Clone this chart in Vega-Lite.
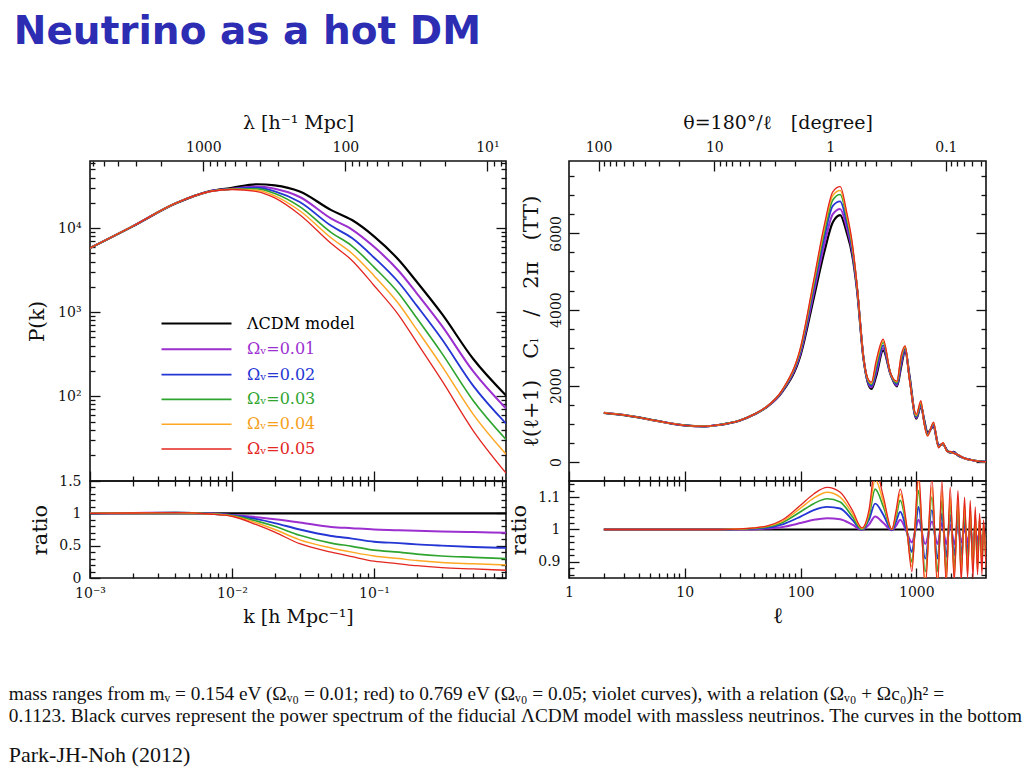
{
"$schema": "https://vega.github.io/schema/vega-lite/v6.json",
"background": "white",
"padding": {"left": 8, "top": 13, "right": 5, "bottom": 5},
"title": {"text": "Neutrino as a hot DM", "anchor": "start", "font": "DejaVu Sans", "fontSize": 39, "fontWeight": "bold", "color": "#2d2db4", "offset": 60, "dx": 5},
"config": {
  "view": {"stroke": "#111111", "strokeWidth": 1.6},
  "axis": {"domain": false, "grid": false, "labelFont": "DejaVu Serif", "labelFontSize": 14, "labelColor": "#111111", "titleFont": "DejaVu Serif", "titleFontSize": 19, "titleFontWeight": "normal", "titleColor": "#111111", "tickColor": "#111111", "tickWidth": 1.3, "labelOverlap": false, "labelFlush": false},
  "line": {"interpolate": "monotone"}
},
"datasets": {
  "pk": [
    {"k":0.001,"m0":5800,"m1":5800,"m2":5800,"m3":5800,"m4":5800,"m5":5800},
    {"k":0.002,"m0":10500,"m1":10550,"m2":10550,"m3":10550,"m4":10550,"m5":10550},
    {"k":0.004,"m0":19600,"m1":19800,"m2":19800,"m3":19800,"m4":19800,"m5":19800},
    {"k":0.007,"m0":27600,"m1":27600,"m2":27460,"m3":27460,"m4":27320,"m5":27320},
    {"k":0.01,"m0":30200,"m1":29450,"m2":29290,"m3":29140,"m4":28990,"m5":28840},
    {"k":0.015,"m0":33300,"m1":31300,"m2":30300,"m3":29300,"m4":28300,"m5":27300},
    {"k":0.02,"m0":32300,"m1":29390,"m2":27460,"m3":25840,"m4":24230,"m5":22930},
    {"k":0.03,"m0":27300,"m1":23480,"m2":20480,"m3":18020,"m4":16110,"m5":14470},
    {"k":0.05,"m0":16400,"m1":12960,"m2":10660,"m3":8860,"m4":7630,"m5":6560},
    {"k":0.07,"m0":12500,"m1":9630,"m2":7630,"m3":6130,"m4":5000,"m5":4130},
    {"k":0.1,"m0":8000,"m1":6000,"m2":4480,"m3":3440,"m4":2720,"m5":2080},
    {"k":0.15,"m0":4150,"m1":3070,"m2":2240,"m3":1660,"m4":1245,"m5":913},
    {"k":0.2,"m0":2300,"m1":1679,"m2":1196,"m3":851,"m4":621,"m5":437},
    {"k":0.3,"m0":960,"m1":691,"m2":480,"m3":326,"m4":230,"m5":154},
    {"k":0.5,"m0":277,"m1":197,"m2":133,"m3":88.6,"m4":60.9,"m5":38.8},
    {"k":0.85,"m0":102,"m1":71.4,"m2":47.4,"m3":30.6,"m4":20.4,"m5":12.2}
  ],
  "pkr": [
    {"k":0.001,"m0":1,"m1":1,"m2":1,"m3":1,"m4":1,"m5":1},
    {"k":0.002,"m0":1,"m1":1.005,"m2":1.005,"m3":1.005,"m4":1.005,"m5":1.005},
    {"k":0.004,"m0":1,"m1":1.01,"m2":1.01,"m3":1.01,"m4":1.01,"m5":1.01},
    {"k":0.007,"m0":1,"m1":1.0,"m2":0.995,"m3":0.995,"m4":0.99,"m5":0.99},
    {"k":0.01,"m0":1,"m1":0.975,"m2":0.97,"m3":0.965,"m4":0.96,"m5":0.955},
    {"k":0.015,"m0":1,"m1":0.94,"m2":0.91,"m3":0.88,"m4":0.85,"m5":0.82},
    {"k":0.02,"m0":1,"m1":0.91,"m2":0.85,"m3":0.80,"m4":0.75,"m5":0.71},
    {"k":0.03,"m0":1,"m1":0.86,"m2":0.75,"m3":0.66,"m4":0.59,"m5":0.53},
    {"k":0.05,"m0":1,"m1":0.79,"m2":0.65,"m3":0.54,"m4":0.465,"m5":0.40},
    {"k":0.07,"m0":1,"m1":0.77,"m2":0.61,"m3":0.49,"m4":0.40,"m5":0.33},
    {"k":0.1,"m0":1,"m1":0.75,"m2":0.56,"m3":0.43,"m4":0.34,"m5":0.26},
    {"k":0.15,"m0":1,"m1":0.74,"m2":0.54,"m3":0.40,"m4":0.30,"m5":0.22},
    {"k":0.2,"m0":1,"m1":0.73,"m2":0.52,"m3":0.37,"m4":0.27,"m5":0.19},
    {"k":0.3,"m0":1,"m1":0.72,"m2":0.50,"m3":0.34,"m4":0.24,"m5":0.16},
    {"k":0.5,"m0":1,"m1":0.71,"m2":0.48,"m3":0.32,"m4":0.22,"m5":0.14},
    {"k":0.85,"m0":1,"m1":0.70,"m2":0.465,"m3":0.30,"m4":0.20,"m5":0.12}
  ],
  "cl": [
    {"l":2,"m0":1290,"m1":1290,"m2":1290,"m3":1290,"m4":1290,"m5":1290},
    {"l":3,"m0":1230,"m1":1230,"m2":1230,"m3":1230,"m4":1230,"m5":1230},
    {"l":4,"m0":1170,"m1":1170,"m2":1170,"m3":1170,"m4":1170,"m5":1170},
    {"l":5,"m0":1110,"m1":1110,"m2":1110,"m3":1110,"m4":1110,"m5":1110},
    {"l":7,"m0":1030,"m1":1030,"m2":1030,"m3":1030,"m4":1030,"m5":1030},
    {"l":10,"m0":960,"m1":960,"m2":960,"m3":960,"m4":960,"m5":960},
    {"l":15,"m0":935,"m1":935,"m2":935,"m3":935,"m4":935,"m5":935},
    {"l":20,"m0":975,"m1":975,"m2":975,"m3":975,"m4":975,"m5":975},
    {"l":30,"m0":1090,"m1":1090,"m2":1091,"m3":1091,"m4":1092,"m5":1092},
    {"l":40,"m0":1250,"m1":1251,"m2":1253,"m3":1254,"m4":1255,"m5":1256},
    {"l":50,"m0":1420,"m1":1424,"m2":1427,"m3":1430,"m4":1433,"m5":1434},
    {"l":70,"m0":1850,"m1":1865,"m2":1880,"m3":1891,"m4":1898,"m5":1906},
    {"l":100,"m0":2800,"m1":2856,"m2":2912,"m3":2954,"m4":2985,"m5":3010},
    {"l":130,"m0":4300,"m1":4430,"m2":4558,"m3":4644,"m4":4717,"m5":4773},
    {"l":160,"m0":5500,"m1":5687,"m2":5880,"m3":6017,"m4":6122,"m5":6204},
    {"l":190,"m0":6290,"m1":6504,"m2":6724,"m3":6875,"m4":6994,"m5":7089},
    {"l":220,"m0":6480,"m1":6642,"m2":6839,"m3":7020,"m4":7128,"m5":7225},
    {"l":250,"m0":6030,"m1":6163,"m2":6301,"m3":6422,"m4":6500,"m5":6573},
    {"l":280,"m0":5420,"m1":5501,"m2":5583,"m3":5637,"m4":5691,"m5":5745},
    {"l":307,"m0":4540,"m1":4576,"m2":4608,"m3":4631,"m4":4658,"m5":4676},
    {"l":350,"m0":2710,"m1":2715,"m2":2721,"m3":2726,"m4":2732,"m5":2737},
    {"l":380,"m0":2100,"m1":2121,"m2":2142,"m3":2163,"m4":2184,"m5":2205},
    {"l":410,"m0":1920,"m1":1958,"m2":1997,"m3":2035,"m4":2064,"m5":2095},
    {"l":450,"m0":2250,"m1":2329,"m2":2419,"m3":2520,"m4":2588,"m5":2655},
    {"l":517,"m0":2930,"m1":2989,"m2":3062,"m3":3135,"m4":3179,"m5":3223},
    {"l":600,"m0":2300,"m1":2298,"m2":2300,"m3":2312,"m4":2318,"m5":2323},
    {"l":680,"m0":1985,"m1":2009,"m2":2045,"m3":2074,"m4":2104,"m5":2124},
    {"l":740,"m0":2500,"m1":2570,"m2":2638,"m3":2713,"m4":2763,"m5":2800},
    {"l":802,"m0":2930,"m1":2959,"m2":2989,"m3":3018,"m4":3033,"m5":3047},
    {"l":870,"m0":2300,"m1":2266,"m2":2243,"m3":2220,"m4":2208,"m5":2185},
    {"l":1000,"m0":1135,"m1":1158,"m2":1180,"m3":1203,"m4":1226,"m5":1249},
    {"l":1096,"m0":1460,"m1":1489,"m2":1518,"m3":1548,"m4":1577,"m5":1606},
    {"l":1170,"m0":1100,"m1":1067,"m2":1056,"m3":1034,"m4":1012,"m5":990},
    {"l":1250,"m0":770,"m1":739,"m2":724,"m3":708,"m4":693,"m5":678},
    {"l":1409,"m0":935,"m1":958,"m2":982,"m3":1010,"m4":1029,"m5":1047},
    {"l":1556,"m0":437,"m1":420,"m2":406,"m3":393,"m4":380,"m5":371},
    {"l":1700,"m0":463,"m1":472,"m2":482,"m3":491,"m4":500,"m5":509},
    {"l":1850,"m0":300,"m1":288,"m2":282,"m3":279,"m4":273,"m5":270},
    {"l":1963,"m0":245,"m1":249,"m2":255,"m3":265,"m4":270,"m5":277},
    {"l":2097,"m0":262,"m1":252,"m2":244,"m3":236,"m4":231,"m5":225},
    {"l":2300,"m0":170,"m1":172,"m2":177,"m3":180,"m4":184,"m5":187},
    {"l":2560,"m0":105,"m1":105,"m2":105,"m3":105,"m4":105,"m5":105},
    {"l":3000,"m0":50,"m1":50,"m2":50,"m3":50,"m4":50,"m5":50},
    {"l":3500,"m0":15,"m1":15,"m2":15,"m3":15,"m4":15,"m5":15},
    {"l":4000,"m0":5,"m1":5,"m2":5,"m3":5,"m4":5,"m5":5}
  ],
  "clr": [
    {"l":2,"m0":1,"m1":1,"m2":1,"m3":1,"m4":1,"m5":1},
    {"l":10,"m0":1,"m1":1,"m2":1,"m3":1,"m4":1,"m5":1},
    {"l":20,"m0":1,"m1":1,"m2":1,"m3":1,"m4":1,"m5":1},
    {"l":30,"m0":1,"m1":1.0,"m2":1.001,"m3":1.001,"m4":1.002,"m5":1.002},
    {"l":50,"m0":1,"m1":1.003,"m2":1.005,"m3":1.007,"m4":1.009,"m5":1.01},
    {"l":70,"m0":1,"m1":1.008,"m2":1.016,"m3":1.022,"m4":1.026,"m5":1.03},
    {"l":100,"m0":1,"m1":1.02,"m2":1.04,"m3":1.055,"m4":1.066,"m5":1.075},
    {"l":130,"m0":1,"m1":1.03,"m2":1.06,"m3":1.08,"m4":1.097,"m5":1.11},
    {"l":170,"m0":1,"m1":1.035,"m2":1.07,"m3":1.095,"m4":1.115,"m5":1.13},
    {"l":220,"m0":1,"m1":1.032,"m2":1.065,"m3":1.085,"m4":1.10,"m5":1.115},
    {"l":280,"m0":1,"m1":1.015,"m2":1.03,"m3":1.04,"m4":1.05,"m5":1.06},
    {"l":339,"m0":1,"m1":0.999,"m2":1.0,"m3":1.0,"m4":1.003,"m5":1.005},
    {"l":390,"m0":1,"m1":1.015,"m2":1.03,"m3":1.04,"m4":1.05,"m5":1.06},
    {"l":441,"m0":1,"m1":1.04,"m2":1.08,"m3":1.125,"m4":1.155,"m5":1.19},
    {"l":520,"m0":1,"m1":1.02,"m2":1.045,"m3":1.07,"m4":1.085,"m5":1.1},
    {"l":615,"m0":1,"m1":0.998,"m2":0.998,"m3":1.0,"m4":1.0,"m5":1.0},
    {"l":670,"m0":1,"m1":1.012,"m2":1.025,"m3":1.04,"m4":1.05,"m5":1.06},
    {"l":726,"m0":1,"m1":1.03,"m2":1.055,"m3":1.09,"m4":1.11,"m5":1.125},
    {"l":820,"m0":1,"m1":0.995,"m2":1.0,"m3":1.01,"m4":1.015,"m5":1.02},
    {"l":916,"m0":1,"m1":0.96,"m2":0.93,"m3":0.9,"m4":0.885,"m5":0.87},
    {"l":980,"m0":1,"m1":0.995,"m2":1.0,"m3":1.01,"m4":1.02,"m5":1.03},
    {"l":1045,"m0":1,"m1":1.03,"m2":1.07,"m3":1.12,"m4":1.155,"m5":1.18},
    {"l":1194,"m0":1,"m1":0.955,"m2":0.91,"m3":0.87,"m4":0.84,"m5":0.82},
    {"l":1364,"m0":1,"m1":1.025,"m2":1.06,"m3":1.1,"m4":1.13,"m5":1.16},
    {"l":1525,"m0":1,"m1":0.955,"m2":0.91,"m3":0.87,"m4":0.84,"m5":0.82},
    {"l":1664,"m0":1,"m1":1.02,"m2":1.05,"m3":1.09,"m4":1.12,"m5":1.15},
    {"l":1813,"m0":1,"m1":0.955,"m2":0.915,"m3":0.87,"m4":0.85,"m5":0.83},
    {"l":1963,"m0":1,"m1":1.015,"m2":1.045,"m3":1.08,"m4":1.10,"m5":1.13},
    {"l":2127,"m0":1,"m1":0.955,"m2":0.92,"m3":0.88,"m4":0.855,"m5":0.84},
    {"l":2290,"m0":1,"m1":1.01,"m2":1.04,"m3":1.07,"m4":1.09,"m5":1.12},
    {"l":2444,"m0":1,"m1":0.96,"m2":0.92,"m3":0.88,"m4":0.86,"m5":0.84},
    {"l":2612,"m0":1,"m1":1.005,"m2":1.03,"m3":1.06,"m4":1.08,"m5":1.1},
    {"l":2773,"m0":1,"m1":0.96,"m2":0.925,"m3":0.885,"m4":0.865,"m5":0.85},
    {"l":2924,"m0":1,"m1":1.0,"m2":1.02,"m3":1.05,"m4":1.07,"m5":1.09},
    {"l":3085,"m0":1,"m1":0.96,"m2":0.93,"m3":0.89,"m4":0.87,"m5":0.85},
    {"l":3230,"m0":1,"m1":0.995,"m2":1.01,"m3":1.04,"m4":1.05,"m5":1.07},
    {"l":3380,"m0":1,"m1":0.965,"m2":0.93,"m3":0.89,"m4":0.87,"m5":0.86},
    {"l":3520,"m0":1,"m1":0.99,"m2":1.0,"m3":1.03,"m4":1.04,"m5":1.05},
    {"l":3690,"m0":1,"m1":0.965,"m2":0.935,"m3":0.9,"m4":0.88,"m5":0.86},
    {"l":3810,"m0":1,"m1":0.98,"m2":0.99,"m3":1.01,"m4":1.02,"m5":1.03},
    {"l":4000,"m0":1,"m1":0.97,"m2":0.94,"m3":0.9,"m4":0.89,"m5":0.88}
  ]
},
"resolve": {"scale": {"color": "independent", "strokeWidth": "independent"}, "legend": {"color": "independent", "strokeWidth": "independent"}},
"vconcat": [
 {
  "title": {"text": ["mass ranges from mᵥ = 0.154 eV (Ωᵥ₀ = 0.01; red) to 0.769 eV (Ωᵥ₀ = 0.05; violet curves), with a relation (Ωᵥ₀ + Ωc₀)h² =", "0.1123. Black curves represent the power spectrum of the fiducial ΛCDM model with massless neutrinos. The curves in the bottom"], "subtitle": "Park-JH-Noh (2012)", "orient": "bottom", "anchor": "start", "font": "Liberation Serif", "fontSize": 19.3, "fontWeight": "normal", "lineHeight": 22, "color": "#111111", "subtitleFont": "Liberation Serif", "subtitleFontSize": 22, "subtitleColor": "#111111", "subtitlePadding": 19, "offset": 58, "dx": -18},
  "spacing": -1,
  "resolve": {"scale": {"color": "independent", "strokeWidth": "independent"}, "legend": {"color": "independent", "strokeWidth": "independent"}},
  "hconcat": [
   {
    "spacing": 0,
    "bounds": "flush",
    "resolve": {"scale": {"color": "independent", "strokeWidth": "independent"}, "legend": {"color": "independent", "strokeWidth": "independent"}},
    "vconcat": [
     {
      "width": 416, "height": 320,
      "resolve": {"scale": {"x": "independent", "y": "independent"}, "axis": {"x": "independent", "y": "independent"}},
      "layer": [
       {
        "data": {"name": "pk"},
        "transform": [{"fold": ["m0","m1","m2","m3","m4","m5"], "as": ["model","P"]}],
        "mark": {"type": "line", "interpolate": "monotone", "clip": true},
        "encoding": {
          "x": {"field": "k", "type": "quantitative", "scale": {"type": "log", "domain": [0.001, 0.85], "nice": false}, "axis": {"orient": "bottom", "values": [0.001, 0.01, 0.1], "tickSize": -10, "labels": false, "title": null}},
          "y": {"field": "P", "type": "quantitative", "scale": {"type": "log", "domain": [9.8, 63000], "nice": false}, "axis": {"orient": "left", "values": [100, 1000, 10000], "tickSize": -10, "labelPadding": 19, "labelExpr": "datum.value == 100 ? '10²' : datum.value == 1000 ? '10³' : '10⁴'", "title": "P(k)", "titleFontSize": 20, "titlePadding": 10}},
          "color": {
            "field": "model", "type": "nominal",
            "scale": {"domain": ["m0","m1","m2","m3","m4","m5"], "range": ["#000000","#9b2fcf","#2536d4","#2fa52f","#ffa824","#e3261f"]},
            "legend": {
              "orient": "none", "legendX": 95, "legendY": 151, "title": null, "padding": 0,
              "symbolType": "M-3.5,0H3.5", "symbolSize": 400, "symbolStrokeWidth": 1.5,
              "labelFont": "DejaVu Serif", "labelFontSize": 16, "labelOffset": 39, "rowPadding": 5.8,
              "labelExpr": "datum.value == 'm0' ? 'ΛCDM model' : datum.value == 'm1' ? 'Ωᵥ=0.01' : datum.value == 'm2' ? 'Ωᵥ=0.02' : datum.value == 'm3' ? 'Ωᵥ=0.03' : datum.value == 'm4' ? 'Ωᵥ=0.04' : 'Ωᵥ=0.05'",
              "encode": {
                "labels": {
                  "update": {
                    "fill": {"signal": "datum.value == 'm0' ? '#000000' : datum.value == 'm1' ? '#9b2fcf' : datum.value == 'm2' ? '#2536d4' : datum.value == 'm3' ? '#2fa52f' : datum.value == 'm4' ? '#f5a01a' : '#e3261f'"}
                  }
                }
              }
            }
          },
          "strokeWidth": {"field": "model", "type": "ordinal", "scale": {"domain": ["m0","m1","m2","m3","m4","m5"], "range": [2.2, 1.3, 1.3, 1.3, 1.3, 1.3]}, "legend": null}
        }
       },
       {
        "data": {"values": [{}]},
        "mark": {"type": "point", "opacity": 0},
        "encoding": {
          "x": {"datum": 0.01, "type": "quantitative", "scale": {"type": "log", "domain": [0.001, 0.85], "nice": false}, "axis": {"orient": "bottom", "values": [0.002,0.003,0.004,0.005,0.006,0.007,0.008,0.009,0.02,0.03,0.04,0.05,0.06,0.07,0.08,0.09,0.2,0.3,0.4,0.5,0.6,0.7,0.8], "tickSize": -5, "labels": false, "title": null}},
          "y": {"datum": 1000, "type": "quantitative", "scale": {"type": "log", "domain": [9.8, 63000], "nice": false}, "axis": {"orient": "left", "values": [20,30,40,50,60,70,80,90,200,300,400,500,600,700,800,900,2000,3000,4000,5000,6000,7000,8000,9000,20000,30000,40000,50000,60000], "tickSize": -5, "labels": false, "title": null}}
        }
       },
       {
        "data": {"values": [{}]},
        "mark": {"type": "point", "opacity": 0},
        "encoding": {
          "x": {"datum": 100, "type": "quantitative", "scale": {"type": "log", "domain": [7.392, 6283.2], "reverse": true, "nice": false}, "axis": {"orient": "top", "values": [10, 100, 1000], "tickSize": -10, "labelPadding": 17, "labelExpr": "datum.value > 500 ? '1000' : datum.value > 50 ? '100' : '10¹'", "title": "λ [h⁻¹ Mpc]", "titlePadding": 8}},
          "y": {"datum": 1000, "type": "quantitative", "scale": {"type": "log", "domain": [9.8, 63000], "nice": false}, "axis": {"orient": "right", "values": [100, 1000, 10000], "tickSize": -10, "labels": false, "title": null}}
        }
       },
       {
        "data": {"values": [{}]},
        "mark": {"type": "point", "opacity": 0},
        "encoding": {
          "x": {"datum": 100, "type": "quantitative", "scale": {"type": "log", "domain": [7.392, 6283.2], "reverse": true, "nice": false}, "axis": {"orient": "top", "values": [8,9,20,30,40,50,60,70,80,90,200,300,400,500,600,700,800,900,2000,3000,4000,5000,6000], "tickSize": -5, "labels": false, "title": null}},
          "y": {"datum": 1000, "type": "quantitative", "scale": {"type": "log", "domain": [9.8, 63000], "nice": false}, "axis": {"orient": "right", "values": [20,30,40,50,60,70,80,90,200,300,400,500,600,700,800,900,2000,3000,4000,5000,6000,7000,8000,9000,20000,30000,40000,50000,60000], "tickSize": -5, "labels": false, "title": null}}
        }
       }
      ]
     },
     {
      "width": 416, "height": 97,
      "resolve": {"scale": {"x": "independent", "y": "independent"}, "axis": {"x": "independent", "y": "independent"}},
      "layer": [
       {
        "data": {"name": "pkr"},
        "transform": [{"fold": ["m0","m1","m2","m3","m4","m5"], "as": ["model","r"]}],
        "mark": {"type": "line", "interpolate": "monotone", "clip": true},
        "encoding": {
          "x": {"field": "k", "type": "quantitative", "scale": {"type": "log", "domain": [0.001, 0.85], "nice": false}, "axis": {"orient": "bottom", "values": [0.001, 0.01, 0.1], "tickSize": -10, "labelPadding": 18, "labelExpr": "datum.value < 0.005 ? '10⁻³' : datum.value < 0.05 ? '10⁻²' : '10⁻¹'", "title": "k [h Mpc⁻¹]", "titlePadding": 7}},
          "y": {"field": "r", "type": "quantitative", "scale": {"domain": [0, 1.5], "nice": false, "zero": false}, "axis": {"orient": "left", "values": [0, 0.5, 1, 1.5], "tickSize": -10, "labelPadding": 19, "format": "~g", "title": "ratio", "titleFontSize": 21, "titlePadding": 8}},
          "color": {"field": "model", "type": "nominal", "scale": {"domain": ["m0","m1","m2","m3","m4","m5"], "range": ["#000000","#9b2fcf","#2536d4","#2fa52f","#ffa824","#e3261f"]}, "legend": null},
          "strokeWidth": {"field": "model", "type": "ordinal", "scale": {"domain": ["m0","m1","m2","m3","m4","m5"], "range": [2.2, 1.3, 1.3, 1.3, 1.3, 1.3]}, "legend": null}
        }
       },
       {
        "data": {"values": [{}]},
        "mark": {"type": "point", "opacity": 0},
        "encoding": {
          "x": {"datum": 0.01, "type": "quantitative", "scale": {"type": "log", "domain": [0.001, 0.85], "nice": false}, "axis": {"orient": "bottom", "values": [0.002,0.003,0.004,0.005,0.006,0.007,0.008,0.009,0.02,0.03,0.04,0.05,0.06,0.07,0.08,0.09,0.2,0.3,0.4,0.5,0.6,0.7,0.8], "tickSize": -5, "labels": false, "title": null}},
          "y": {"datum": 1, "type": "quantitative", "scale": {"domain": [0, 1.5], "nice": false, "zero": false}, "axis": {"orient": "left", "values": [0.1,0.2,0.3,0.4,0.6,0.7,0.8,0.9,1.1,1.2,1.3,1.4], "tickSize": -5, "labels": false, "title": null}}
        }
       },
       {
        "data": {"values": [{}]},
        "mark": {"type": "point", "opacity": 0},
        "encoding": {
          "x": {"datum": 0.01, "type": "quantitative", "scale": {"type": "log", "domain": [0.001, 0.85], "nice": false}, "axis": {"orient": "top", "values": [0.001, 0.01, 0.1], "tickSize": -10, "labels": false, "title": null}},
          "y": {"datum": 1, "type": "quantitative", "scale": {"domain": [0, 1.5], "nice": false, "zero": false}, "axis": {"orient": "right", "values": [0, 0.5, 1, 1.5], "tickSize": -10, "labels": false, "title": null}}
        }
       },
       {
        "data": {"values": [{}]},
        "mark": {"type": "point", "opacity": 0},
        "encoding": {
          "x": {"datum": 0.01, "type": "quantitative", "scale": {"type": "log", "domain": [0.001, 0.85], "nice": false}, "axis": {"orient": "top", "values": [0.002,0.003,0.004,0.005,0.006,0.007,0.008,0.009,0.02,0.03,0.04,0.05,0.06,0.07,0.08,0.09,0.2,0.3,0.4,0.5,0.6,0.7,0.8], "tickSize": -5, "labels": false, "title": null}},
          "y": {"datum": 1, "type": "quantitative", "scale": {"domain": [0, 1.5], "nice": false, "zero": false}, "axis": {"orient": "right", "values": [0.1,0.2,0.3,0.4,0.6,0.7,0.8,0.9,1.1,1.2,1.3,1.4], "tickSize": -5, "labels": false, "title": null}}
        }
       }
      ]
     }
    ]
   },
   {
    "spacing": 0,
    "bounds": "flush",
    "resolve": {"scale": {"color": "independent", "strokeWidth": "independent"}, "legend": {"color": "independent", "strokeWidth": "independent"}},
    "vconcat": [
     {
      "width": 417, "height": 320,
      "resolve": {"scale": {"x": "independent", "y": "independent"}, "axis": {"x": "independent", "y": "independent"}},
      "layer": [
       {
        "data": {"name": "cl"},
        "transform": [{"fold": ["m0","m1","m2","m3","m4","m5"], "as": ["model","C"]}],
        "mark": {"type": "line", "interpolate": "monotone", "clip": true},
        "encoding": {
          "x": {"field": "l", "type": "quantitative", "scale": {"type": "log", "domain": [1, 4000], "nice": false}, "axis": {"orient": "bottom", "values": [1, 10, 100, 1000], "tickSize": -10, "labels": false, "title": null}},
          "y": {"field": "C", "type": "quantitative", "scale": {"domain": [-500, 7900], "nice": false, "zero": false}, "axis": {"orient": "left", "values": [0, 2000, 4000, 6000], "tickSize": -10, "labelPadding": 16, "labelAngle": -90, "labelAlign": "center", "labelBaseline": "bottom", "format": "d", "title": "ℓ(ℓ+1)\u2003Cₗ\u2003/\u20032π\u2003(TT)", "titleFontSize": 21, "titlePadding": 8}},
          "color": {"field": "model", "type": "nominal", "scale": {"domain": ["m0","m1","m2","m3","m4","m5"], "range": ["#000000","#9b2fcf","#2536d4","#2fa52f","#ffa824","#e3261f"]}, "legend": null},
          "strokeWidth": {"field": "model", "type": "ordinal", "scale": {"domain": ["m0","m1","m2","m3","m4","m5"], "range": [2.2, 1.3, 1.3, 1.3, 1.3, 1.5]}, "legend": null}
        }
       },
       {
        "data": {"values": [{}]},
        "mark": {"type": "point", "opacity": 0},
        "encoding": {
          "x": {"datum": 10, "type": "quantitative", "scale": {"type": "log", "domain": [1, 4000], "nice": false}, "axis": {"orient": "bottom", "values": [2,3,4,5,6,7,8,9,20,30,40,50,60,70,80,90,200,300,400,500,600,700,800,900,2000,3000], "tickSize": -5, "labels": false, "title": null}},
          "y": {"datum": 1000, "type": "quantitative", "scale": {"domain": [-500, 7900], "nice": false, "zero": false}, "axis": {"orient": "left", "values": [500,1000,1500,2500,3000,3500,4500,5000,5500,6500,7000,7500], "tickSize": -5, "labels": false, "title": null}}
        }
       },
       {
        "data": {"values": [{}]},
        "mark": {"type": "point", "opacity": 0},
        "encoding": {
          "x": {"datum": 1, "type": "quantitative", "scale": {"type": "log", "domain": [0.045, 180], "reverse": true, "nice": false}, "axis": {"orient": "top", "values": [0.1, 1, 10, 100], "tickSize": -10, "labelPadding": 17, "labelExpr": "datum.value > 50 ? '100' : datum.value > 5 ? '10' : datum.value > 0.5 ? '1' : '0.1'", "title": "θ=180°/ℓ\u2003[degree]", "titlePadding": 8}},
          "y": {"datum": 1000, "type": "quantitative", "scale": {"domain": [-500, 7900], "nice": false, "zero": false}, "axis": {"orient": "right", "values": [0, 2000, 4000, 6000], "tickSize": -10, "labels": false, "title": null}}
        }
       },
       {
        "data": {"values": [{}]},
        "mark": {"type": "point", "opacity": 0},
        "encoding": {
          "x": {"datum": 1, "type": "quantitative", "scale": {"type": "log", "domain": [0.045, 180], "reverse": true, "nice": false}, "axis": {"orient": "top", "values": [0.05,0.06,0.07,0.08,0.09,0.2,0.3,0.4,0.5,0.6,0.7,0.8,0.9,2,3,4,5,6,7,8,9,20,30,40,50,60,70,80,90], "tickSize": -5, "labels": false, "title": null}},
          "y": {"datum": 1000, "type": "quantitative", "scale": {"domain": [-500, 7900], "nice": false, "zero": false}, "axis": {"orient": "right", "values": [500,1000,1500,2500,3000,3500,4500,5000,5500,6500,7000,7500], "tickSize": -5, "labels": false, "title": null}}
        }
       }
      ]
     },
     {
      "width": 417, "height": 97,
      "resolve": {"scale": {"x": "independent", "y": "independent"}, "axis": {"x": "independent", "y": "independent"}},
      "layer": [
       {
        "data": {"name": "clr"},
        "transform": [{"fold": ["m0","m1","m2","m3","m4","m5"], "as": ["model","r"]}],
        "mark": {"type": "line", "interpolate": "monotone", "clip": true},
        "encoding": {
          "x": {"field": "l", "type": "quantitative", "scale": {"type": "log", "domain": [1, 4000], "nice": false}, "axis": {"orient": "bottom", "values": [1, 10, 100, 1000], "tickSize": -10, "labelPadding": 17, "format": "d", "title": "ℓ", "titleFontSize": 22, "titlePadding": 6}},
          "y": {"field": "r", "type": "quantitative", "scale": {"domain": [0.85, 1.15], "nice": false, "zero": false}, "axis": {"orient": "left", "values": [0.9, 1, 1.1], "tickSize": -10, "labelPadding": 19, "format": "~g", "title": "ratio", "titleFontSize": 21, "titlePadding": 8}},
          "color": {"field": "model", "type": "nominal", "scale": {"domain": ["m0","m1","m2","m3","m4","m5"], "range": ["#000000","#9b2fcf","#2536d4","#2fa52f","#ffa824","#e3261f"]}, "legend": null},
          "strokeWidth": {"field": "model", "type": "ordinal", "scale": {"domain": ["m0","m1","m2","m3","m4","m5"], "range": [2.2, 1.3, 1.3, 1.3, 1.3, 1.5]}, "legend": null}
        }
       },
       {
        "data": {"values": [{}]},
        "mark": {"type": "point", "opacity": 0},
        "encoding": {
          "x": {"datum": 10, "type": "quantitative", "scale": {"type": "log", "domain": [1, 4000], "nice": false}, "axis": {"orient": "bottom", "values": [2,3,4,5,6,7,8,9,20,30,40,50,60,70,80,90,200,300,400,500,600,700,800,900,2000,3000], "tickSize": -5, "labels": false, "title": null}},
          "y": {"datum": 1, "type": "quantitative", "scale": {"domain": [0.85, 1.15], "nice": false, "zero": false}, "axis": {"orient": "left", "values": [0.86,0.88,0.92,0.94,0.96,0.98,1.02,1.04,1.06,1.08,1.12,1.14], "tickSize": -5, "labels": false, "title": null}}
        }
       },
       {
        "data": {"values": [{}]},
        "mark": {"type": "point", "opacity": 0},
        "encoding": {
          "x": {"datum": 10, "type": "quantitative", "scale": {"type": "log", "domain": [1, 4000], "nice": false}, "axis": {"orient": "top", "values": [1, 10, 100, 1000], "tickSize": -10, "labels": false, "title": null}},
          "y": {"datum": 1, "type": "quantitative", "scale": {"domain": [0.85, 1.15], "nice": false, "zero": false}, "axis": {"orient": "right", "values": [0.9, 1, 1.1], "tickSize": -10, "labels": false, "title": null}}
        }
       },
       {
        "data": {"values": [{}]},
        "mark": {"type": "point", "opacity": 0},
        "encoding": {
          "x": {"datum": 10, "type": "quantitative", "scale": {"type": "log", "domain": [1, 4000], "nice": false}, "axis": {"orient": "top", "values": [2,3,4,5,6,7,8,9,20,30,40,50,60,70,80,90,200,300,400,500,600,700,800,900,2000,3000], "tickSize": -5, "labels": false, "title": null}},
          "y": {"datum": 1, "type": "quantitative", "scale": {"domain": [0.85, 1.15], "nice": false, "zero": false}, "axis": {"orient": "right", "values": [0.86,0.88,0.92,0.94,0.96,0.98,1.02,1.04,1.06,1.08,1.12,1.14], "tickSize": -5, "labels": false, "title": null}}
        }
       }
      ]
     }
    ]
   }
  ]
 }
]
}
